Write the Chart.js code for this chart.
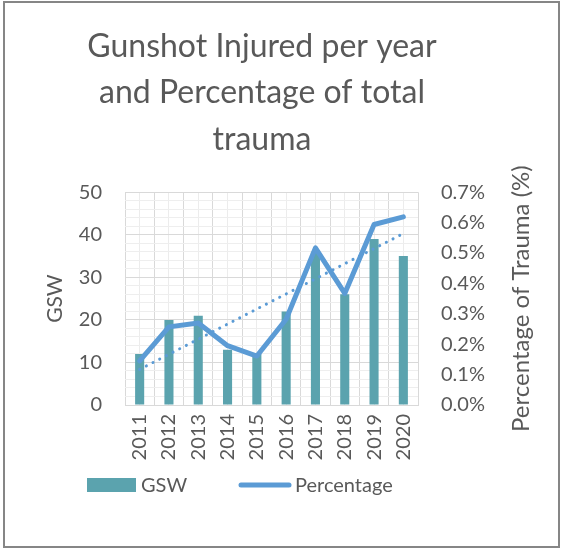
<!DOCTYPE html>
<html>
<head>
<meta charset="utf-8">
<script src="https://cdn.jsdelivr.net/npm/chart.js@4/dist/chart.umd.min.js"></script>
<style>
  html, body { margin: 0; padding: 0; background: #fff; }
  #wrap { width: 562px; height: 549px; }
</style>
</head>
<body>
<div id="wrap"><canvas id="c" width="562" height="549"></canvas></div>
<script>
// ---- data ----
const years = ['2011','2012','2013','2014','2015','2016','2017','2018','2019','2020'];
const gsw = [12, 20, 21, 13, 12, 22, 36, 26, 39, 35];
const percentage = [0.145, 0.257, 0.270, 0.195, 0.161, 0.282, 0.517, 0.367, 0.594, 0.619];
const gswTicks = [0, 10, 20, 30, 40, 50];
const pctTicks = [0, 0.1, 0.2, 0.3, 0.4, 0.5, 0.6, 0.7];
const titleLines = ['Gunshot Injured per year', 'and Percentage of total', 'trauma'];

// linear (least squares) trendline of the percentage series, as Excel draws it
function linearTrend(vals) {
  const n = vals.length;
  let sx = 0, sy = 0, sxx = 0, sxy = 0;
  vals.forEach((v, i) => { const x = i + 1; sx += x; sy += v; sxx += x * x; sxy += x * v; });
  const slope = (n * sxy - sx * sy) / (n * sxx - sx * sx);
  const icpt = (sy - slope * sx) / n;
  return vals.map((v, i) => icpt + slope * (i + 1));
}
const pctTrend = linearTrend(percentage);

const BAR = '#5BA3AE';
const LINE = '#5B9BD5';
const TXT = '#595959';
const FONT = 'Lato';

const framePlugin = {
  id: 'frame',
  beforeDraw(chart) {
    const ctx = chart.ctx;
    ctx.save();
    ctx.fillStyle = '#fff';
    ctx.fillRect(0, 0, chart.width, chart.height);
    ctx.restore();
  },
  afterDraw(chart) {
    const ctx = chart.ctx;
    ctx.save();
    // outer frame
    ctx.strokeStyle = '#868686';
    ctx.lineWidth = 2;
    ctx.strokeRect(4, 2, 555, 545);
    // right axis title (reads bottom-to-top)
    const y1 = chart.scales.y1;
    ctx.fillStyle = TXT;
    ctx.font = '24px ' + FONT;
    ctx.textAlign = 'center';
    ctx.textBaseline = 'middle';
    ctx.translate(521, (y1.top + y1.bottom) / 2);
    ctx.rotate(-Math.PI / 2);
    ctx.fillText('Percentage of Trauma (%)', 0, 0);
    ctx.restore();
    // legend
    ctx.save();
    ctx.font = '20px ' + FONT;
    ctx.textBaseline = 'middle';
    ctx.textAlign = 'left';
    const ly = 485;
    ctx.fillStyle = chart.data.datasets[2].backgroundColor;
    ctx.fillRect(87, 478, 49, 14);
    ctx.fillStyle = TXT;
    ctx.fillText(chart.data.datasets[2].label, 141, ly + 1);
    ctx.strokeStyle = chart.data.datasets[0].borderColor;
    ctx.lineWidth = 5;
    ctx.lineCap = 'round';
    ctx.beginPath();
    ctx.moveTo(241, ly);
    ctx.lineTo(289, ly);
    ctx.stroke();
    ctx.fillText(chart.data.datasets[0].label, 295, ly + 1);
    ctx.restore();
  }
};

new Chart(document.getElementById('c'), {
  data: {
    labels: years,
    datasets: [
      {
        type: 'line', label: 'Percentage', data: percentage, yAxisID: 'y1',
        borderColor: LINE, backgroundColor: LINE, borderWidth: 5,
        borderJoinStyle: 'round', borderCapStyle: 'round',
        pointRadius: 0, pointHoverRadius: 0, tension: 0, order: 0
      },
      {
        type: 'line', label: 'Linear (Percentage)', data: pctTrend, yAxisID: 'y1',
        borderColor: LINE, borderWidth: 3, borderDash: [0.1, 7.4], borderCapStyle: 'round',
        pointRadius: 0, pointHoverRadius: 0, tension: 0, order: 1
      },
      {
        type: 'bar', label: 'GSW', data: gsw, yAxisID: 'y',
        backgroundColor: BAR, borderWidth: 0,
        categoryPercentage: 1, barPercentage: 0.31, order: 2
      }
    ]
  },
  options: {
    responsive: false,
    devicePixelRatio: 1,
    animation: false,
    layout: { padding: { left: 0, right: 38, top: 0, bottom: 0 } },
    plugins: {
      legend: { display: false },
      tooltip: { enabled: false },
      title: {
        display: true, text: titleLines, color: TXT,
        font: { family: FONT, size: 32, weight: 'normal', lineHeight: 1.44 },
        padding: { top: 24, bottom: 30 }
      }
    },
    scales: {
      x: {
        type: 'category', position: 'bottom', offset: true,
        grid: { offset: true, color: '#d9d9d9', lineWidth: 1, drawTicks: false },
        border: { display: true, color: '#d9d9d9' },
        ticks: { color: TXT, font: { family: FONT, size: 20 }, minRotation: 90, maxRotation: 90, padding: 9, autoSkip: false },
        afterFit(s) { s.height = 144; }
      },
      xMinor: {
        type: 'category', position: 'bottom', offset: true,
        grid: { offset: false, color: '#ececec', lineWidth: 1, drawTicks: false },
        border: { display: false },
        ticks: { display: false },
        afterFit(s) { s.height = 0; }
      },
      y: {
        type: 'linear', position: 'left', min: 0, max: 50,
        afterBuildTicks(s) { s.ticks = gswTicks.map(v => ({ value: v })); },
        grid: { color: '#d9d9d9', lineWidth: 1, drawTicks: false },
        border: { display: false },
        ticks: { color: TXT, font: { family: FONT, size: 20 }, padding: 23 },
        title: { display: true, text: 'GSW', color: TXT, font: { family: FONT, size: 21 }, padding: { top: 43, bottom: 0 } },
        afterFit(s) { s.width = 125; }
      },
      yMinor: {
        type: 'linear', position: 'left', min: 0, max: 50,
        ticks: { display: false, stepSize: 2 },
        grid: {
          drawTicks: false, lineWidth: 1,
          color: c => (c.tick && Math.round(c.tick.value) % 10 === 0) ? 'rgba(0,0,0,0)' : '#eeeeee'
        },
        border: { display: false },
        afterFit(s) { s.width = 0; }
      },
      y1: {
        type: 'linear', position: 'right', min: 0, max: 0.7,
        afterBuildTicks(s) { s.ticks = pctTicks.map(v => ({ value: v })); },
        grid: { display: false, drawOnChartArea: false, drawTicks: false },
        border: { display: false },
        ticks: { color: TXT, font: { family: FONT, size: 20 }, padding: 23, callback: v => Number(v).toFixed(1) + '%' },
        afterFit(s) { s.width = 106; }
      }
    }
  },
  plugins: [framePlugin]
});
</script>
</body>
</html>
